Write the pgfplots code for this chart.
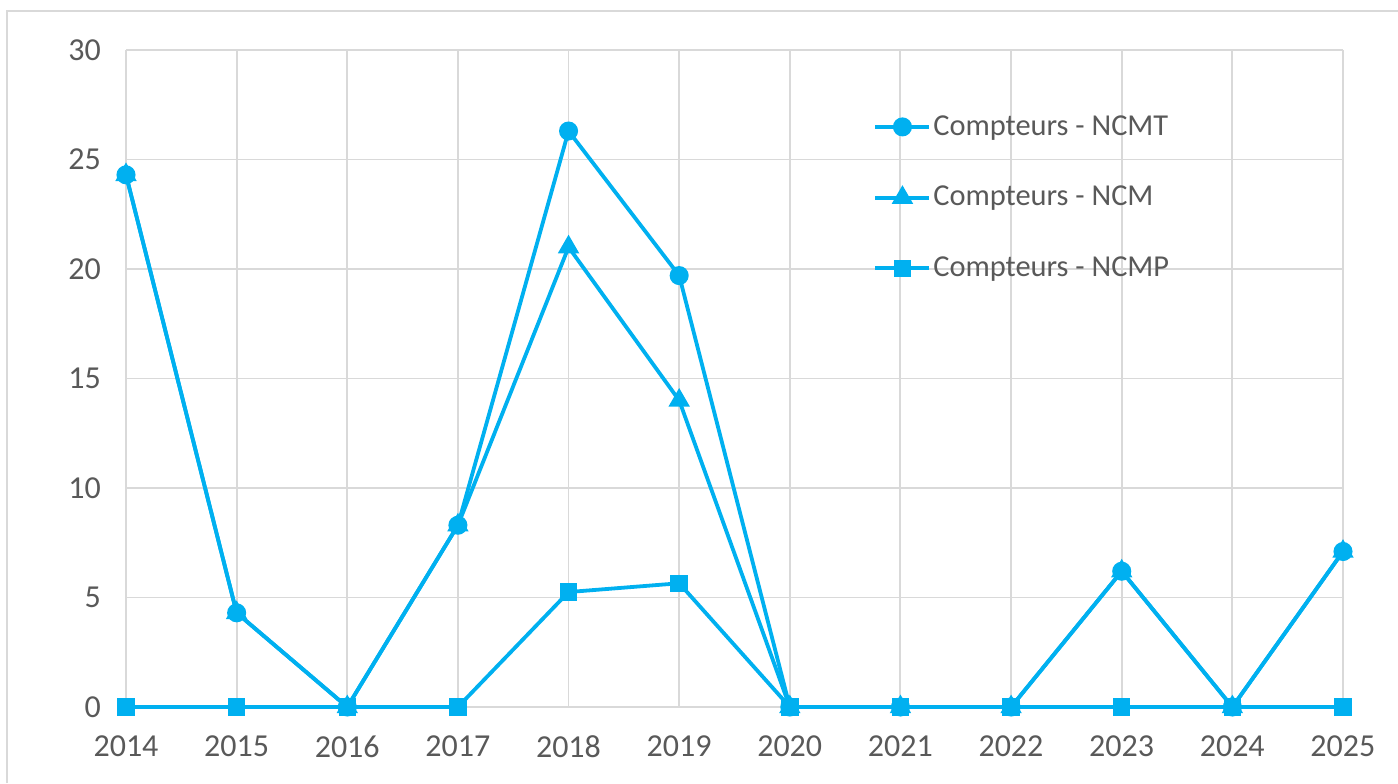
\documentclass[border=0pt]{standalone}
\usepackage{fontspec}
\setmainfont{Carlito}
\usepackage{pgfplots}
\pgfplotsset{compat=1.18}
\definecolor{lineblue}{HTML}{00B0F0}
\definecolor{gridgray}{HTML}{D9D9D9}
\definecolor{textgray}{HTML}{595959}
\begin{document}
\begin{tikzpicture}
\path[use as bounding box] (0pt,0pt) rectangle (699pt,391.5pt);
\draw[gridgray, line width=1pt] (3.5pt,0pt) -- (3.5pt,386pt) -- (699pt,386pt);
\begin{axis}[
  at={(63pt,38pt)}, anchor=origin,
  scale only axis, width=608.5pt, height=328.5pt,
  xmin=2014, xmax=2025, ymin=0, ymax=30,
  xtick={2014,...,2025}, ytick={0,5,...,30},
  grid=major, grid style={gridgray, line width=0.9pt},
  axis line style={draw=none},
  major tick length=0pt,
  clip=false,
  /pgf/number format/assume math mode=true,
  /pgf/number format/1000 sep={},
  tick label style={font=\fontsize{16}{19}\selectfont, text=textgray},
  xticklabel style={yshift=-11pt},
  yticklabel style={xshift=-9pt},
  legend style={at={(0.609,0.910)}, anchor=north west, draw=none, fill=none,
    font=\fontsize{15.2}{18}\selectfont, text=textgray, row sep=22pt,
    nodes={inner sep=1pt}},
  legend cell align=left,
  legend image code/.code={\draw[mark repeat=2,mark phase=2] plot coordinates {(0pt,0pt) (13.5pt,0pt) (27pt,0pt)};},
  every axis plot/.append style={lineblue, line width=1.9pt, mark options={solid, fill=lineblue, draw=lineblue}},
]
\addplot[mark=*, mark size=3.8pt] coordinates {
(2014,24.3) (2015,4.3) (2016,0) (2017,8.3) (2018,26.3) (2019,19.7)
(2020,0) (2021,0) (2022,0) (2023,6.2) (2024,0) (2025,7.1)};
\addlegendentry{Compteurs - NCMT}
\addplot[mark=triangle*, mark size=4.3pt] coordinates {
(2014,24.3) (2015,4.3) (2016,0) (2017,8.3) (2018,21.0) (2019,14.0)
(2020,0) (2021,0) (2022,0) (2023,6.2) (2024,0) (2025,7.1)};
\addlegendentry{Compteurs - NCM}
\addplot[mark=square*, mark size=3.4pt] coordinates {
(2014,0) (2015,0) (2016,0) (2017,0) (2018,5.25) (2019,5.65)
(2020,0) (2021,0) (2022,0) (2023,0) (2024,0) (2025,0)};
\addlegendentry{Compteurs - NCMP}
\end{axis}
\end{tikzpicture}
\end{document}
